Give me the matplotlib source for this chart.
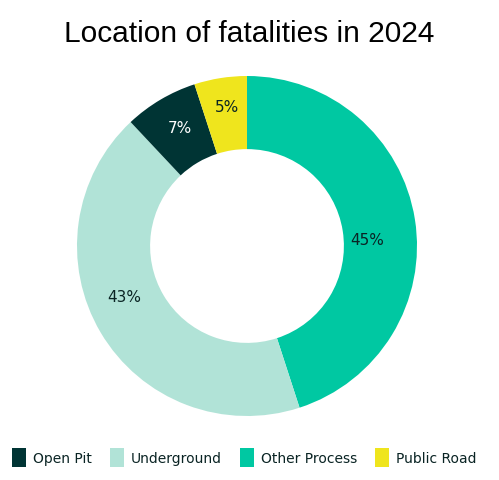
import numpy as np
import matplotlib.pyplot as plt

categories = ["Other Process", "Underground", "Open Pit", "Public Road"]
shares = [45, 43, 7, 5]
colors = ["#00c8a2", "#b1e3d7", "#003434", "#efe51d"]
label_colors = ["#0a2424", "#0a2424", "white", "#0a2424"]
legend_order = ["Open Pit", "Underground", "Other Process", "Public Road"]

# label placement tweaks (angle shift in degrees, radius)
label_shift = [-6, -8, -1, -1]
label_radius = [0.71, 0.78, 0.80, 0.83]

fig = plt.figure(figsize=(4.99, 4.81), dpi=100)
ax = fig.add_axes([77 / 499, 64 / 481, 340 / 499, 340 / 481])

wedges, texts, autotexts = ax.pie(
    shares, colors=colors, startangle=90, counterclock=False,
    autopct="%d%%", pctdistance=0.79,
    wedgeprops=dict(width=0.43, edgecolor="none"),
    textprops=dict(fontsize=11, family="DejaVu Sans"),
)
for w, t, c, dA, r in zip(wedges, autotexts, label_colors, label_shift, label_radius):
    t.set_color(c)
    ang = np.deg2rad((w.theta1 + w.theta2) / 2 + dA)
    t.set_position((r * np.cos(ang), r * np.sin(ang)))
ax.set_xlim(-1, 1)
ax.set_ylim(-1, 1)

fig.suptitle("Location of fatalities in 2024", y=0.958, fontsize=21.5,
             family="Liberation Sans")

handles = [wedges[categories.index(n)] for n in legend_order]
leg = fig.legend(handles, legend_order, loc="center", bbox_to_anchor=(0.49, 0.047),
                 ncol=4, frameon=False, fontsize=10, handlelength=1.0,
                 handleheight=1.8, handletextpad=0.5, columnspacing=1.3)
for t in leg.get_texts():
    t.set_color("#0a2424")

fig.savefig("out.png", dpi=100)
